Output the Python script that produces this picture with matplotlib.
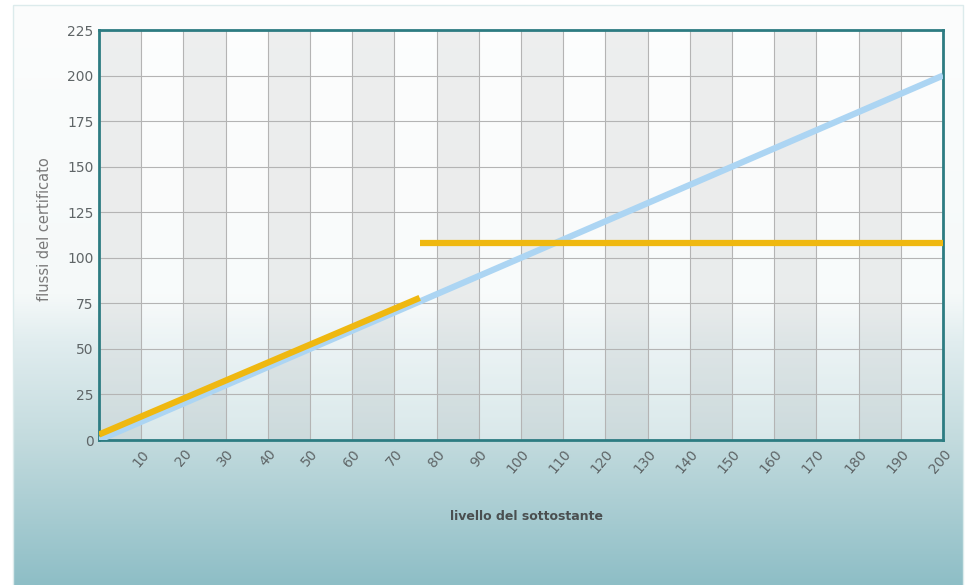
import numpy as np
import matplotlib.pyplot as plt
import matplotlib.transforms as mtransforms
from matplotlib.colors import LinearSegmentedColormap
from matplotlib.patches import Rectangle

# underlying level (x) vs certificate payoff (y)
x_blue = [0, 200]
y_blue = [0, 200]
x_gold_ramp = [0, 76]
y_gold_ramp = [3, 78]
x_gold_flat = [76, 200]
y_gold_flat = [108, 108]

x_ticks = list(range(10, 201, 10))
y_ticks = list(range(0, 226, 25))

W, H = 967, 585
fig = plt.figure(figsize=(W / 100, H / 100), dpi=100)

# panel background with white -> teal gradient
bg = fig.add_axes([0, 0, 1, 1])
panel_cmap = LinearSegmentedColormap.from_list(
    'panel', [(0, '#fcfdfd'), (0.5, '#f5f9f9'), (0.58, '#e1edef'),
              (0.75, '#c3dbde'), (1, '#8ebec6')])
grad = np.linspace(0, 1, 256).reshape(-1, 1)
bg.imshow(grad, cmap=panel_cmap, extent=[13, 963, 585, 5], aspect='auto')
bg.add_patch(Rectangle((13, 5), 950, 585, fill=False, ec='#dcebec', lw=1))
bg.set_xlim(0, W)
bg.set_ylim(H, 0)
bg.axis('off')

# plot area, alternating column bands let the panel gradient show through
ax = fig.add_axes([99 / W, 1 - 440 / H, 844 / W, 410 / H])
ax.patch.set_alpha(0)
for i, x0 in enumerate(range(0, 200, 10)):
    if i % 2 == 0:
        ax.axvspan(x0, x0 + 10, color='#dadada', alpha=0.41, lw=0, zorder=0)
    else:
        ax.axvspan(x0, x0 + 10, color='white', alpha=0.38, lw=0, zorder=0)

ax.plot(x_blue, y_blue, color='#acd5f3', lw=4.5, solid_capstyle='butt', zorder=3)
ax.plot(x_gold_ramp, y_gold_ramp, color='#efb810', lw=4.5, solid_capstyle='butt', zorder=4)
ax.plot(x_gold_flat, y_gold_flat, color='#efb810', lw=4.5, solid_capstyle='butt', zorder=4)

ax.set_xlim(0, 200)
ax.set_ylim(0, 225)
ax.set_xticks(x_ticks)
ax.set_xticklabels([str(v) for v in x_ticks], rotation=50, ha='right',
                   rotation_mode='anchor')
shift = mtransforms.ScaledTranslation(-4 / 100, 0, fig.dpi_scale_trans)
for lab in ax.get_xticklabels():
    lab.set_transform(lab.get_transform() + shift)
ax.set_yticks(y_ticks)
ax.grid(True, color='#b4b4b4', lw=0.8, zorder=1)
ax.set_axisbelow(True)
ax.tick_params(length=0, colors='#5f6567', labelsize=10)
ax.tick_params(axis='x', pad=5)
ax.tick_params(axis='y', pad=4)
for s in ax.spines.values():
    s.set_color('#2d7c82')
    s.set_linewidth(2)

fig.text(45 / W, 1 - 229 / H, 'flussi del certificato', rotation=90,
         ha='center', va='center', color='#7a7a7a', fontsize=10.5)
fig.text(527 / W, 1 - 517 / H, 'livello del sottostante', ha='center',
         va='center', color='#4a4f50', fontsize=9, fontweight='bold')

fig.savefig('out.png', dpi=100)
